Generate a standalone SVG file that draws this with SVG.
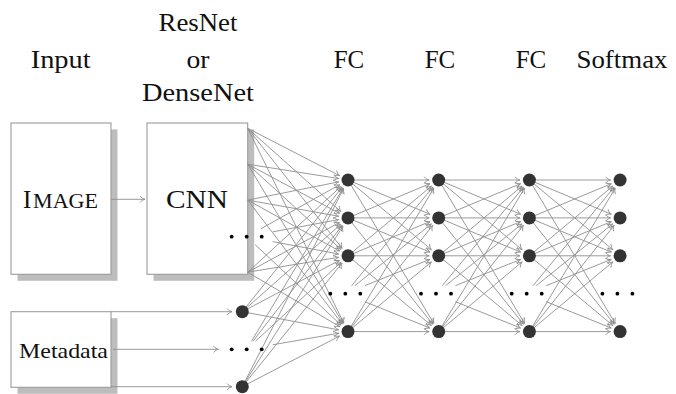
<svg xmlns="http://www.w3.org/2000/svg" xmlns:xlink="http://www.w3.org/1999/xlink" width="676" height="394" viewBox="0 0 676 394">
  <style>
    text { font-family: "Liberation Serif", "DejaVu Serif", serif; fill: #111; }
    .box { fill: #fff; stroke: #9c9c9c; stroke-width: 1.1; }
    .shadow { fill: #bdbdbd; }
    .edge { stroke: #8e8e8e; stroke-width: 0.9; fill: none; marker-end: url(#to); }
    .neuron { fill: #333; }
    .dot { fill: #000; }
  </style>
  <defs>
    <marker id="to" markerUnits="userSpaceOnUse" markerWidth="12" markerHeight="12" refX="0" refY="0" orient="auto" overflow="visible">
      <path d="M-5,-3.2 C-3.5,-1.2 -1.2,-0.3 0,0 C-1.2,0.3 -3.5,1.2 -5,3.2" fill="none" stroke="#8e8e8e" stroke-width="0.9"/>
    </marker>
    <!-- edges between two fully connected layers, source layer at x=0, target at x=90.7 -->
    <g id="fcPair">
      <line class="edge" x1="0" y1="180" x2="81.2" y2="180"/>
      <line class="edge" x1="0" y1="180" x2="81.93" y2="214.24"/>
      <line class="edge" x1="0" y1="180" x2="83.41" y2="249.71"/>
      <line class="edge" x1="0" y1="180" x2="85.82" y2="323.45"/>
      <line class="edge" x1="0" y1="217.9" x2="81.93" y2="183.66"/>
      <line class="edge" x1="0" y1="217.9" x2="81.2" y2="217.9"/>
      <line class="edge" x1="0" y1="217.9" x2="81.93" y2="252.14"/>
      <line class="edge" x1="0" y1="217.9" x2="84.78" y2="324.17"/>
      <line class="edge" x1="0" y1="255.8" x2="83.41" y2="186.09"/>
      <line class="edge" x1="0" y1="255.8" x2="81.93" y2="221.56"/>
      <line class="edge" x1="0" y1="255.8" x2="81.2" y2="255.8"/>
      <line class="edge" x1="0" y1="255.8" x2="83.41" y2="325.51"/>
      <line class="edge" x1="3.6" y1="285.7" x2="84.66" y2="187.33"/>
      <line class="edge" x1="6.9" y1="285.7" x2="83.31" y2="223.87"/>
      <line class="edge" x1="16.8" y1="285.7" x2="81.89" y2="259.36"/>
      <line class="edge" x1="16.8" y1="301.7" x2="81.89" y2="328.04"/>
      <line class="edge" x1="0" y1="331.6" x2="85.82" y2="188.15"/>
      <line class="edge" x1="0" y1="331.6" x2="84.78" y2="225.33"/>
      <line class="edge" x1="0" y1="331.6" x2="83.41" y2="261.89"/>
      <line class="edge" x1="0" y1="331.6" x2="81.2" y2="331.6"/>
    </g>
    <!-- one column of neurons with the ellipsis row -->
    <g id="column">
      <circle class="neuron" cx="0" cy="180" r="6.5"/>
      <circle class="neuron" cx="0" cy="217.9" r="6.5"/>
      <circle class="neuron" cx="0" cy="255.8" r="6.5"/>
      <circle class="dot" cx="-17.7" cy="293.7" r="1.9"/>
      <circle class="dot" cx="-2.7" cy="293.7" r="1.9"/>
      <circle class="dot" cx="12.3" cy="293.7" r="1.9"/>
      <circle class="neuron" cx="0" cy="331.6" r="6.5"/>
    </g>
  </defs>

  <!-- column headings -->
  <g id="headings" font-family="Liberation Serif, DejaVu Serif, serif" font-size="25" text-anchor="middle">
    <text x="60.7" y="68" textLength="60" lengthAdjust="spacingAndGlyphs">Input</text>
    <text x="198" y="31" textLength="79" lengthAdjust="spacingAndGlyphs">ResNet</text>
    <text x="198" y="68" textLength="23" lengthAdjust="spacingAndGlyphs">or</text>
    <text x="198" y="101" textLength="112" lengthAdjust="spacingAndGlyphs">DenseNet</text>
    <text x="349" y="68">FC</text>
    <text x="440" y="68">FC</text>
    <text x="531" y="68">FC</text>
    <text x="622" y="68" textLength="91" lengthAdjust="spacingAndGlyphs">Softmax</text>
  </g>

  <!-- input boxes -->
  <g id="image">
    <rect class="shadow" x="17.5" y="129.5" width="100" height="151.3"/>
    <rect class="box" x="11" y="123" width="100" height="151.3"/>
    <text y="208" font-family="Liberation Serif, DejaVu Serif, serif"><tspan x="23" font-size="25">I</tspan><tspan x="33" font-size="20" textLength="65" lengthAdjust="spacingAndGlyphs">MAGE</tspan></text>
  </g>
  <g id="cnn">
    <rect class="shadow" x="153.5" y="129.5" width="100.7" height="151.3"/>
    <rect class="box" x="147" y="123" width="100.7" height="151.3"/>
    <text x="197" y="208" font-family="Liberation Serif, DejaVu Serif, serif" font-size="25" text-anchor="middle" textLength="62" lengthAdjust="spacingAndGlyphs">CNN</text>
  </g>
  <g id="metadata">
    <rect class="shadow" x="17.5" y="318.2" width="100" height="75.6"/>
    <rect class="box" x="11" y="311.7" width="100" height="75.6"/>
    <text x="19" y="358" font-family="Liberation Serif, DejaVu Serif, serif" font-size="22" textLength="89" lengthAdjust="spacingAndGlyphs">Metadata</text>
  </g>

  <!-- connectors -->
  <g id="connectors">
    <line class="edge" x1="111" y1="199.3" x2="145" y2="199.3"/>
    <line class="edge" x1="111" y1="311.7" x2="232" y2="311.7"/>
    <line class="edge" x1="113" y1="349.3" x2="218.5" y2="349.3"/>
    <line class="edge" x1="111" y1="386.7" x2="232" y2="386.7"/>

    <!-- CNN outputs and metadata into the first FC layer -->
    <line class="edge" x1="247.7" y1="128.3" x2="339.56" y2="175.65"/>
    <line class="edge" x1="247.7" y1="128.3" x2="340.91" y2="211.57"/>
    <line class="edge" x1="247.7" y1="128.3" x2="342.13" y2="248.33"/>
    <line class="edge" x1="247.7" y1="128.3" x2="343.8" y2="323.08"/>
    <line class="edge" x1="247.7" y1="164.2" x2="338.62" y2="178.52"/>
    <line class="edge" x1="247.7" y1="164.2" x2="339.62" y2="213.42"/>
    <line class="edge" x1="247.7" y1="164.2" x2="340.99" y2="249.39"/>
    <line class="edge" x1="247.7" y1="164.2" x2="343.12" y2="323.45"/>
    <line class="edge" x1="247.7" y1="200.1" x2="338.69" y2="181.87"/>
    <line class="edge" x1="247.7" y1="200.1" x2="338.65" y2="216.24"/>
    <line class="edge" x1="247.7" y1="200.1" x2="339.7" y2="251.19"/>
    <line class="edge" x1="247.7" y1="200.1" x2="342.24" y2="324.05"/>
    <line class="edge" x1="261" y1="228.7" x2="339.71" y2="184.64"/>
    <line class="edge" x1="272.7" y1="231.87" x2="338.66" y2="219.63"/>
    <line class="edge" x1="272.7" y1="241.6" x2="338.66" y2="254.04"/>
    <line class="edge" x1="255.2" y1="244.7" x2="341.07" y2="325.1"/>
    <line class="edge" x1="247.7" y1="272.2" x2="341.01" y2="186.43"/>
    <line class="edge" x1="247.7" y1="272.2" x2="339.65" y2="222.42"/>
    <line class="edge" x1="247.7" y1="272.2" x2="338.62" y2="257.33"/>
    <line class="edge" x1="247.7" y1="272.2" x2="339.83" y2="326.76"/>
    <line class="edge" x1="242.3" y1="311.7" x2="342.05" y2="187.41"/>
    <line class="edge" x1="242.3" y1="311.7" x2="340.89" y2="224.21"/>
    <line class="edge" x1="242.3" y1="311.7" x2="339.6" y2="260.24"/>
    <line class="edge" x1="242.3" y1="311.7" x2="338.66" y2="329.84"/>
    <line class="edge" x1="251.5" y1="341.3" x2="343.12" y2="188.15"/>
    <line class="edge" x1="252.9" y1="341.3" x2="342.2" y2="225.42"/>
    <line class="edge" x1="255.4" y1="341.3" x2="341.02" y2="262.24"/>
    <line class="edge" x1="272.7" y1="344.8" x2="338.64" y2="333.23"/>
    <line class="edge" x1="242.3" y1="386.7" x2="343.67" y2="188.46"/>
    <line class="edge" x1="242.3" y1="386.7" x2="342.96" y2="225.95"/>
    <line class="edge" x1="242.3" y1="386.7" x2="342.03" y2="263.19"/>
    <line class="edge" x1="242.3" y1="386.7" x2="339.58" y2="335.99"/>

    <!-- FC to FC to FC to softmax -->
    <use xlink:href="#fcPair" x="348"/>
    <use xlink:href="#fcPair" x="438.7"/>
    <use xlink:href="#fcPair" x="529.4"/>
  </g>

  <!-- neurons -->
  <g id="cnn-ellipsis">
    <circle class="dot" cx="231.7" cy="236.7" r="1.9"/>
    <circle class="dot" cx="246.7" cy="236.7" r="1.9"/>
    <circle class="dot" cx="261.7" cy="236.7" r="1.9"/>
  </g>
  <g id="meta-inputs">
    <circle class="neuron" cx="242.3" cy="311.7" r="6.5"/>
    <circle class="dot" cx="231.7" cy="349.3" r="1.9"/>
    <circle class="dot" cx="246.7" cy="349.3" r="1.9"/>
    <circle class="dot" cx="261.7" cy="349.3" r="1.9"/>
    <circle class="neuron" cx="242.3" cy="386.7" r="6.5"/>
  </g>
  <g id="fc1"><use xlink:href="#column" x="348"/></g>
  <g id="fc2"><use xlink:href="#column" x="438.7"/></g>
  <g id="fc3"><use xlink:href="#column" x="529.4"/></g>
  <g id="softmax"><use xlink:href="#column" x="620.1"/></g>
</svg>
